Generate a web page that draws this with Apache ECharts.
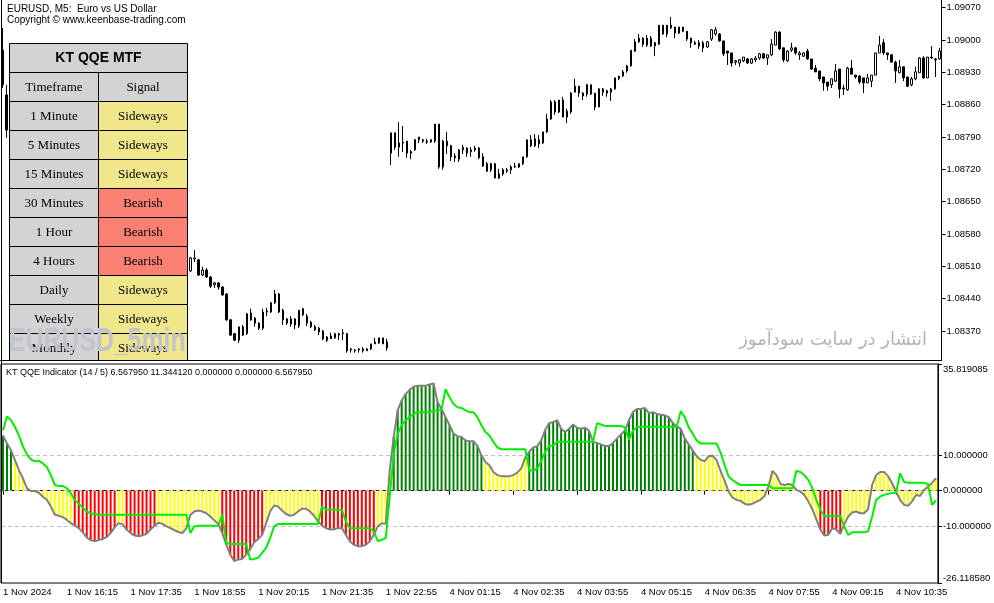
<!DOCTYPE html>
<html><head><meta charset="utf-8">
<script src="https://cdn.jsdelivr.net/npm/echarts/dist/echarts.min.js"></script>
<style>html,body{margin:0;padding:0;background:#fff;}#c{width:994px;height:603px;}</style>
</head><body><div id="c"></div>
<script>
// ---------- DATA ----------
// candles: [open, close, low, high]  (EURUSD M5, 1 Nov 14:55 -> 4 Nov 11:25)
const candles = [
[1.08978,1.08903,1.08896,1.09026],[1.08881,1.08805,1.08788,1.08903],[1.08805,1.08816,1.08799,1.08822],[1.08816,1.08784,1.08777,1.08820],[1.08784,1.08762,1.08758,1.08790],
[1.08762,1.08771,1.08749,1.08775],[1.08771,1.08740,1.08734,1.08777],[1.08740,1.08719,1.08710,1.08747],[1.08719,1.08727,1.08712,1.08734],[1.08727,1.08701,1.08693,1.08732],
[1.08701,1.08686,1.08680,1.08708],[1.08686,1.08695,1.08677,1.08701],[1.08695,1.08671,1.08664,1.08699],[1.08671,1.08680,1.08660,1.08686],[1.08680,1.08658,1.08651,1.08684],
[1.08658,1.08643,1.08636,1.08664],[1.08643,1.08654,1.08634,1.08660],[1.08654,1.08636,1.08628,1.08658],[1.08636,1.08621,1.08615,1.08643],[1.08621,1.08630,1.08612,1.08636],
[1.08630,1.08610,1.08602,1.08634],[1.08610,1.08593,1.08586,1.08617],[1.08593,1.08602,1.08584,1.08608],[1.08602,1.08580,1.08573,1.08606],[1.08580,1.08567,1.08558,1.08586],
[1.08567,1.08576,1.08560,1.08582],[1.08576,1.08554,1.08548,1.08580],[1.08554,1.08541,1.08532,1.08560],[1.08541,1.08548,1.08530,1.08554],[1.08548,1.08528,1.08519,1.08552],
[1.08528,1.08513,1.08506,1.08535],[1.08513,1.08522,1.08504,1.08528],[1.08522,1.08502,1.08496,1.08526],[1.08502,1.08491,1.08483,1.08509],[1.08491,1.08506,1.08485,1.08513],
[1.08506,1.08519,1.08500,1.08524],[1.08519,1.08511,1.08502,1.08526],[1.08511,1.08528,1.08504,1.08535],[1.08528,1.08519,1.08513,1.08537],[1.08519,1.08502,1.08496,1.08526],
[1.08502,1.08515,1.08493,1.08522],[1.08515,1.08506,1.08500,1.08519],[1.08506,1.08519,1.08502,1.08528],[1.08519,1.08511,1.08504,1.08524],[1.08511,1.08524,1.08506,1.08530],
[1.08524,1.08515,1.08509,1.08532],[1.08515,1.08500,1.08493,1.08522],[1.08500,1.08528,1.08498,1.08530],[1.08526,1.08528,1.08519,1.08545],[1.08524,1.08491,1.08489,1.08526],
[1.08491,1.08502,1.08489,1.08509],[1.08502,1.08487,1.08485,1.08506],[1.08487,1.08467,1.08463,1.08489],[1.08470,1.08474,1.08463,1.08476],[1.08474,1.08465,1.08459,1.08476],
[1.08465,1.08448,1.08446,1.08467],[1.08450,1.08394,1.08392,1.08452],[1.08394,1.08361,1.08359,1.08396],[1.08364,1.08350,1.08348,1.08366],[1.08350,1.08379,1.08344,1.08379],
[1.08361,1.08379,1.08359,1.08383],[1.08364,1.08407,1.08361,1.08409],[1.08409,1.08394,1.08392,1.08418],[1.08398,1.08387,1.08379,1.08400],[1.08387,1.08376,1.08372,1.08389],
[1.08376,1.08411,1.08372,1.08418],[1.08411,1.08413,1.08402,1.08420],[1.08411,1.08431,1.08409,1.08433],[1.08431,1.08450,1.08428,1.08459],[1.08450,1.08411,1.08409,1.08452],
[1.08415,1.08394,1.08383,1.08418],[1.08396,1.08387,1.08383,1.08398],[1.08385,1.08396,1.08379,1.08402],[1.08396,1.08383,1.08374,1.08398],[1.08381,1.08415,1.08376,1.08415],
[1.08418,1.08405,1.08402,1.08420],[1.08402,1.08387,1.08381,1.08407],[1.08389,1.08379,1.08376,1.08392],[1.08379,1.08372,1.08370,1.08383],[1.08376,1.08368,1.08361,1.08379],
[1.08370,1.08353,1.08350,1.08372],[1.08357,1.08350,1.08346,1.08359],[1.08353,1.08359,1.08353,1.08366],[1.08355,1.08364,1.08353,1.08366],[1.08361,1.08364,1.08350,1.08366],
[1.08364,1.08366,1.08350,1.08374],[1.08364,1.08327,1.08323,1.08366],[1.08329,1.08331,1.08323,1.08333],[1.08327,1.08329,1.08323,1.08331],[1.08331,1.08329,1.08323,1.08333],
[1.08327,1.08331,1.08323,1.08335],[1.08327,1.08331,1.08327,1.08333],[1.08331,1.08342,1.08329,1.08342],[1.08342,1.08346,1.08342,1.08355],[1.08344,1.08355,1.08342,1.08355],
[1.08355,1.08342,1.08342,1.08355],[1.08346,1.08333,1.08327,1.08353],
[1.08755,1.08799,1.08729,1.08799],[1.08799,1.08768,1.08762,1.08799],[1.08768,1.08777,1.08747,1.08822],
[1.08777,1.08779,1.08758,1.08814],[1.08781,1.08755,1.08745,1.08781],[1.08758,1.08755,1.08742,1.08762],[1.08762,1.08784,1.08760,1.08786],[1.08784,1.08790,1.08777,1.08790],
[1.08781,1.08784,1.08777,1.08786],[1.08781,1.08779,1.08775,1.08786],[1.08784,1.08779,1.08777,1.08784],[1.08781,1.08818,1.08777,1.08818],[1.08818,1.08725,1.08721,1.08818],
[1.08725,1.08781,1.08719,1.08784],[1.08781,1.08771,1.08753,1.08801],[1.08771,1.08747,1.08738,1.08773],[1.08749,1.08745,1.08736,1.08755],[1.08742,1.08762,1.08736,1.08764],
[1.08762,1.08768,1.08753,1.08773],[1.08766,1.08755,1.08747,1.08768],[1.08758,1.08762,1.08747,1.08768],[1.08762,1.08766,1.08758,1.08771],[1.08766,1.08745,1.08742,1.08768],
[1.08747,1.08727,1.08725,1.08755],[1.08732,1.08716,1.08714,1.08736],[1.08732,1.08719,1.08714,1.08734],[1.08732,1.08701,1.08701,1.08734],[1.08701,1.08710,1.08699,1.08721],
[1.08710,1.08719,1.08706,1.08723],[1.08716,1.08719,1.08712,1.08723],[1.08719,1.08725,1.08710,1.08729],[1.08725,1.08727,1.08723,1.08734],[1.08732,1.08725,1.08723,1.08732],
[1.08732,1.08747,1.08729,1.08747],[1.08747,1.08784,1.08745,1.08784],[1.08784,1.08771,1.08768,1.08794],[1.08771,1.08786,1.08768,1.08796],[1.08784,1.08775,1.08766,1.08794],
[1.08777,1.08801,1.08775,1.08801],[1.08801,1.08829,1.08799,1.08840],[1.08829,1.08866,1.08827,1.08870],[1.08866,1.08844,1.08838,1.08870],[1.08844,1.08870,1.08842,1.08870],
[1.08870,1.08833,1.08833,1.08877],[1.08833,1.08846,1.08820,1.08851],[1.08844,1.08885,1.08840,1.08887],[1.08887,1.08900,1.08887,1.08916],[1.08900,1.08885,1.08877,1.08900],
[1.08885,1.08879,1.08870,1.08887],[1.08883,1.08903,1.08877,1.08905],[1.08903,1.08883,1.08881,1.08903],[1.08885,1.08855,1.08848,1.08885],[1.08855,1.08894,1.08855,1.08896],
[1.08894,1.08887,1.08879,1.08896],[1.08890,1.08885,1.08877,1.08892],[1.08887,1.08894,1.08868,1.08896],[1.08894,1.08918,1.08892,1.08918],[1.08916,1.08922,1.08913,1.08922],
[1.08922,1.08931,1.08920,1.08935],[1.08933,1.08944,1.08929,1.08946],[1.08944,1.08978,1.08942,1.08978],[1.08976,1.08996,1.08974,1.09002],[1.08996,1.09004,1.08994,1.09013],
[1.09004,1.08991,1.08985,1.09006],[1.08989,1.09004,1.08985,1.09011],[1.09004,1.08987,1.08985,1.09009],[1.08987,1.08994,1.08965,1.08996],[1.08991,1.09032,1.08989,1.09032],
[1.09032,1.09013,1.09011,1.09032],[1.09013,1.09032,1.09006,1.09032],[1.09032,1.09026,1.09024,1.09050],[1.09028,1.09015,1.09004,1.09028],[1.09015,1.09028,1.09013,1.09028],
[1.09028,1.09019,1.09017,1.09028],[1.09019,1.09002,1.08998,1.09019],[1.09004,1.08994,1.08983,1.09004],[1.08994,1.08991,1.08989,1.08998],[1.08994,1.08987,1.08981,1.09000],
[1.08994,1.08983,1.08974,1.08998],[1.08985,1.08996,1.08983,1.08998],[1.09002,1.09022,1.08998,1.09024],[1.09013,1.09022,1.09009,1.09028],[1.09013,1.08998,1.08996,1.09015],
[1.08998,1.08970,1.08965,1.08998],[1.08976,1.08972,1.08946,1.08976],[1.08972,1.08950,1.08942,1.08972],[1.08952,1.08955,1.08946,1.08957],[1.08950,1.08957,1.08942,1.08959],
[1.08955,1.08963,1.08952,1.08963],[1.08959,1.08950,1.08948,1.08961],[1.08950,1.08959,1.08948,1.08961],[1.08957,1.08961,1.08952,1.08965],[1.08961,1.08970,1.08957,1.08972],
[1.08970,1.08961,1.08959,1.08972],[1.08961,1.08968,1.08946,1.08968],[1.08968,1.08991,1.08965,1.09002],[1.08989,1.09017,1.08989,1.09019],[1.09017,1.08981,1.08978,1.09019],
[1.08983,1.08957,1.08952,1.08983],[1.08955,1.08976,1.08952,1.08978],[1.08978,1.08983,1.08974,1.08994],[1.08983,1.08972,1.08968,1.08985],[1.08968,1.08972,1.08957,1.08976],
[1.08965,1.08972,1.08963,1.08974],[1.08976,1.08959,1.08957,1.08981],[1.08959,1.08937,1.08935,1.08959],[1.08939,1.08931,1.08931,1.08946],[1.08933,1.08916,1.08911,1.08933],
[1.08920,1.08907,1.08890,1.08920],[1.08909,1.08900,1.08890,1.08909],[1.08903,1.08916,1.08896,1.08916],[1.08911,1.08933,1.08909,1.08948],[1.08937,1.08894,1.08874,1.08937],
[1.08894,1.08896,1.08881,1.08903],[1.08892,1.08939,1.08890,1.08942],[1.08939,1.08926,1.08926,1.08957],[1.08924,1.08920,1.08916,1.08924],[1.08922,1.08909,1.08905,1.08924],
[1.08918,1.08907,1.08885,1.08918],[1.08907,1.08918,1.08907,1.08926],[1.08911,1.08924,1.08898,1.08924],[1.08924,1.08972,1.08924,1.08972],[1.08972,1.08989,1.08972,1.09009],
[1.08994,1.08972,1.08968,1.09002],[1.08972,1.08968,1.08957,1.08972],[1.08968,1.08952,1.08952,1.08968],[1.08952,1.08933,1.08907,1.08955],[1.08929,1.08942,1.08929,1.08957],
[1.08942,1.08918,1.08911,1.08942],[1.08920,1.08900,1.08898,1.08920],[1.08903,1.08916,1.08900,1.08920],[1.08916,1.08931,1.08913,1.08942],[1.08929,1.08961,1.08929,1.08963],
[1.08961,1.08918,1.08916,1.08965],[1.08918,1.08963,1.08918,1.08963],[1.08963,1.08961,1.08959,1.08987],[1.08959,1.08957,1.08920,1.08961],[1.08959,1.08976,1.08957,1.08983]
];

// QQE smoothed RSI (histogram + gray line), centred on 0
const qqeRsi = [
15.6,13.3,11.4,8.6,5.8,3.5,0.7,-0.1,-0.1,-0.6,
-1.7,-2.6,-4.5,-6.8,-7.1,-7.5,-8.2,-9.2,-9.8,-10.6,
-11.8,-13.2,-14.0,-14.3,-14.0,-13.7,-13.1,-12.0,-10.4,-9.2,
-9.5,-11.0,-12.0,-12.7,-12.9,-12.6,-12.2,-11.0,-9.9,-9.1,
-9.4,-10.1,-10.6,-11.2,-11.7,-12.0,-10.6,-6.9,-5.9,-5.6,
-5.9,-6.4,-7.3,-8.4,-9.4,-12.0,-15.3,-18.1,-19.9,-19.5,
-19.3,-18.1,-16.5,-14.6,-13.7,-12.5,-9.2,-5.9,-4.2,-4.5,
-5.6,-6.6,-7.1,-6.8,-5.9,-5.1,-5.1,-5.9,-7.1,-8.7,
-9.9,-10.6,-11.0,-10.9,-10.6,-10.6,-12.5,-14.3,-15.3,-15.7,
-15.7,-15.3,-14.3,-12.5,-10.1,-9.2,-9.4,5.8,15.2,22.7,
25.5,27.3,28.5,29.4,29.7,29.7,29.7,30.0,30.3,25.0,
23.1,20.8,18.5,16.1,15.4,15.2,14.2,14.0,14.0,12.6,
10.0,8.1,7.2,5.3,4.4,4.1,4.1,4.1,4.4,5.1,
6.3,9.4,11.0,12.2,12.6,14.2,17.2,19.1,19.4,19.9,
17.5,16.6,17.5,18.7,17.8,17.5,17.8,16.9,13.8,13.5,
13.1,12.6,12.6,13.5,14.7,15.9,17.0,19.9,22.2,23.1,
23.1,23.4,21.9,22.2,21.7,21.5,21.3,20.8,19.1,18.2,
17.5,14.7,13.1,11.4,9.7,8.7,8.3,9.8,9.9,8.6,
5.5,2.8,-0.3,-2.0,-2.6,-2.9,-3.7,-4.0,-3.7,-3.1,
-2.6,-1.5,1.1,5.6,4.4,1.9,1.6,1.9,1.6,0.2,
-0.3,-1.2,-3.1,-5.2,-8.1,-11.0,-12.7,-12.5,-10.6,-11.0,
-12.2,-9.6,-7.3,-6.2,-5.9,-6.4,-6.4,-5.2,1.6,4.4,
5.3,5.3,4.1,2.1,-0.3,-2.6,-4.0,-4.3,-3.1,-1.2,
-1.5,0.2,1.1,2.2,3.5
];

// QQE trailing level (green line)
const qqeTrail = [
17.0,21.0,20.0,18.0,15.6,12.5,10.3,8.8,8.4,8.4,
7.7,6.7,4.4,1.6,1.3,1.3,0.7,-0.7,-2.6,-3.7,
-4.8,-5.9,-6.4,-6.6,-6.8,-6.8,-6.8,-6.8,-6.8,-6.8,
-6.8,-6.8,-6.8,-6.8,-6.8,-6.8,-6.8,-6.8,-6.8,-6.8,
-6.8,-6.8,-6.8,-6.8,-6.8,-6.8,-6.8,-12.0,-10.1,-9.9,
-9.9,-9.9,-9.9,-9.9,-9.9,-6.8,-14.8,-15.1,-15.1,-15.1,
-15.1,-15.1,-19.5,-19.3,-19.0,-17.6,-16.2,-13.4,-10.1,-9.4,
-9.4,-9.4,-9.4,-9.4,-9.4,-9.4,-9.4,-9.4,-9.4,-9.4,
-4.5,-5.4,-5.4,-5.4,-5.4,-5.4,-8.7,-10.6,-10.6,-10.6,
-10.6,-10.6,-10.6,-11.5,-14.3,-13.9,-13.4,-1.7,10.5,16.1,
18.5,19.9,20.8,21.7,22.2,22.2,22.2,22.2,22.7,22.7,
22.9,28.7,26.4,24.5,23.6,23.4,22.7,22.2,22.2,20.8,
18.5,16.6,15.6,13.8,12.2,11.7,11.7,11.7,11.7,11.7,
11.7,11.7,5.8,5.6,6.3,8.4,11.0,12.6,12.8,13.8,
13.8,13.8,13.8,13.8,13.8,13.8,13.8,13.8,13.8,19.1,
18.7,18.3,18.3,18.3,18.3,18.3,17.9,14.4,17.0,17.9,
18.1,18.1,18.1,18.1,18.1,18.1,18.1,18.1,18.1,18.1,
22.5,20.8,17.9,16.1,14.2,13.3,13.3,13.3,13.3,13.3,
10.7,7.2,4.0,3.0,2.2,1.6,1.6,1.6,1.6,1.6,
1.6,1.6,1.6,0.7,0.7,0.7,0.7,0.7,0.7,5.6,
5.3,4.4,3.0,0.7,-2.6,-5.4,-7.1,-7.1,-7.1,-7.1,
-7.1,-10.1,-12.5,-11.8,-11.8,-11.8,-11.8,-11.5,-7.3,-2.6,
-1.7,-1.2,-0.9,-0.7,-0.6,4.9,2.5,2.2,2.2,2.2,
2.2,2.2,1.9,-4.0,-2.8
];

// histogram colour state runs: G = bullish, Y = neutral, R = bearish
const histRuns = [['G',3],['Y',15],['R',11],['Y',2],['R',8],['Y',16],['R',11],['Y',14],['R',14],['Y',4],
                  ['G',23],['Y',11],['G',42],['Y',31],['R',6],['Y',24]];

const timeframes = ['1 Minute','5 Minutes','15 Minutes','30 Minutes','1 Hour','4 Hours','Daily','Weekly','Monthly'];
const signals = ['Sideways','Sideways','Sideways','Bearish','Bearish','Bearish','Sideways','Sideways','Sideways'];

const priceTicks = [1.08370,1.08440,1.08510,1.08580,1.08650,1.08720,1.08790,1.08860,1.08930,1.09000,1.09070];
const indTicks = [-26.11858,-10,0,10,35.819085];
const levels = [10,0,-10];
const timeTicks = ['1 Nov 2024','1 Nov 16:15','1 Nov 17:35','1 Nov 18:55','1 Nov 20:15','1 Nov 21:35','1 Nov 22:55',
                   '4 Nov 01:15','4 Nov 02:35','4 Nov 03:55','4 Nov 05:15','4 Nov 06:35','4 Nov 07:55','4 Nov 09:15','4 Nov 10:35'];
const priceMin = 1.083071, priceMax = 1.090866;
const indMin = -26.11858, indMax = 35.819085;

// ---------- BUILD ----------
const pad = n => (n < 10 ? '0' : '') + n;
const cats = [];
for (let i = 0; i < 97; i++) { const m = 14 * 60 + 55 + 5 * i; cats.push('1 Nov ' + pad(Math.floor(m / 60)) + ':' + pad(m % 60)); }
for (let k = 0; k < 138; k++) { const m = 5 * k; cats.push('4 Nov ' + pad(Math.floor(m / 60)) + ':' + pad(m % 60)); }

const states = [];
histRuns.forEach(([s, n]) => { for (let i = 0; i < n; i++) states.push(s); });
const stateColor = { G: '#008000', Y: '#ffff00', R: '#ff0000' };
const histData = qqeRsi.map((v, i) => ({ value: v, itemStyle: { color: stateColor[states[i]] } }));

const UI = '"Liberation Sans", Arial, sans-serif';
const SERIF = '"Liberation Serif", "Times New Roman", serif';

const graphics = [];
graphics.push({ type: 'line', z: 100, shape: { x1: 1.5, y1: 0, x2: 1.5, y2: 583 }, style: { stroke: '#000', lineWidth: 1 } });
graphics.push({ type: 'text', z: 100, x: 7, y: 9, style: { text: 'EURUSD, M5:  Euro vs US Dollar', font: '10px ' + UI, fill: '#000', align: 'left', verticalAlign: 'middle' } });
graphics.push({ type: 'text', z: 100, x: 7, y: 20.5, style: { text: 'Copyright \u00a9 www.keenbase-trading.com', font: '10px ' + UI, fill: '#000', align: 'left', verticalAlign: 'middle' } });
graphics.push({ type: 'text', z: 100, x: 6, y: 372.5, style: { text: 'KT QQE Indicator (14 / 5) 6.567950 11.344120 0.000000 0.000000 6.567950', font: '9px ' + UI, fill: '#000', align: 'left', verticalAlign: 'middle' } });

// table
const TL = 9.5, TM = 98.5, TR = 187.5, TT = 43.5, RH = 29, CLIP = 360.5;
const cell = (x, y, w, h, fill, text, font) => {
  const hh = Math.min(h, CLIP - y);
  graphics.push({ type: 'rect', z: 100, shape: { x: x, y: y, width: w, height: hh }, style: { fill: fill, stroke: '#000', lineWidth: 1 } });
  graphics.push({ type: 'text', z: 101, x: x + w / 2, y: y + h / 2 + 0.5, style: { text: text, font: font, fill: '#000', align: 'center', verticalAlign: 'middle' } });
};
cell(TL, TT, TR - TL, RH, '#d3d3d3', 'KT QQE MTF', 'bold 14px ' + UI);
cell(TL, TT + RH, TM - TL, RH, '#d3d3d3', 'Timeframe', '13px ' + SERIF);
cell(TM, TT + RH, TR - TM, RH, '#d3d3d3', 'Signal', '13px ' + SERIF);
timeframes.forEach((tf, i) => {
  const y = TT + RH * (i + 2);
  const sig = signals[i];
  cell(TL, y, TM - TL, RH, '#d3d3d3', tf, '13px ' + SERIF);
  cell(TM, y, TR - TM, RH, sig === 'Bearish' ? '#fa8072' : (sig === 'Bullish' ? '#90ee90' : '#f0e68c'), sig, '13px ' + SERIF);
});
// watermarks
graphics.push({ type: 'text', z: 110, x: 9, y: 342, scaleX: 0.73, originX: 0, style: { text: 'EURUSD_5min', font: 'bold 34px ' + UI, fill: '#c0c5cc', align: 'left', verticalAlign: 'middle' } });
graphics.push({ type: 'text', z: 110, x: 927, y: 340, style: { text: 'انتشار در سایت سودآموز', font: '18px "DejaVu Sans", sans-serif', fill: '#b4b4b4', align: 'right', verticalAlign: 'middle' } });

if (candles.length !== 235 || qqeRsi.length !== 235 || qqeTrail.length !== 235 || states.length !== 235) {
  graphics.push({ type: 'text', z: 200, x: 300, y: 200, style: { text: 'LEN ' + candles.length + ' ' + qqeRsi.length + ' ' + qqeTrail.length + ' ' + states.length, font: 'bold 30px sans-serif', fill: 'red' } });
}

const axisFont = { fontFamily: UI, fontSize: 9.5, color: '#000' };
const everySixteen = (idx) => idx % 16 === 0;

const option = {
  animation: false,
  backgroundColor: '#fff',
  grid: [
    { left: 0.5, right: 52.5, top: 0, height: 360, show: false },
    { left: 0.5, right: 52.5, top: 364, height: 219, show: true, borderColor: '#000', borderWidth: 1, backgroundColor: 'transparent' }
  ],
  xAxis: [
    { type: 'category', gridIndex: 0, data: cats, boundaryGap: true,
      axisLine: { show: true, lineStyle: { color: '#000', width: 1 } }, axisTick: { show: false }, axisLabel: { show: false }, splitLine: { show: false } },
    { type: 'category', gridIndex: 1, data: cats, boundaryGap: true,
      axisLine: { show: true, lineStyle: { color: '#000', width: 1 } },
      axisTick: { show: true, interval: everySixteen, alignWithLabel: true, length: 4, lineStyle: { color: '#000' } },
      axisLabel: Object.assign({ interval: everySixteen, align: 'left', margin: 4, hideOverlap: false,
        formatter: (v, idx) => timeTicks[idx / 16] }, axisFont),
      splitLine: { show: false } }
  ],
  yAxis: [
    { type: 'value', gridIndex: 0, position: 'right', min: priceMin, max: priceMax,
      axisLine: { show: true, lineStyle: { color: '#000' } },
      axisTick: { show: true, customValues: priceTicks, length: 4, inside: false, lineStyle: { color: '#000' } },
      axisLabel: Object.assign({ customValues: priceTicks, margin: 5, formatter: v => v.toFixed(5) }, axisFont),
      splitLine: { show: false } },
    { type: 'value', gridIndex: 1, position: 'right', min: indMin, max: indMax,
      axisLine: { show: true, lineStyle: { color: '#000' } },
      axisTick: { show: true, customValues: indTicks, length: 4, inside: false, lineStyle: { color: '#000' } },
      axisLabel: Object.assign({ customValues: indTicks, margin: 5, formatter: v => v.toFixed(6),
        verticalAlignMinLabel: 'bottom', verticalAlignMaxLabel: 'top' }, axisFont),
      splitLine: { show: false } }
  ],
  series: [
    { type: 'candlestick', xAxisIndex: 0, yAxisIndex: 0, data: candles, barWidth: 2,
      itemStyle: { color: '#ffffff', color0: '#000000', borderColor: '#000000', borderColor0: '#000000', borderWidth: 1 } },
    { type: 'line', xAxisIndex: 1, yAxisIndex: 1, data: [], z: 1, silent: true,
      markLine: { silent: true, z: 1, symbol: ['none', 'none'], label: { show: false },
        lineStyle: { color: '#c0c0c0', width: 1, type: [4, 3] },
        data: levels.map(v => ({ yAxis: v })) } },
    { type: 'bar', xAxisIndex: 1, yAxisIndex: 1, data: histData, barWidth: 2, z: 2 },
    { type: 'line', xAxisIndex: 1, yAxisIndex: 1, data: qqeRsi, z: 3, symbol: 'none', lineStyle: { color: '#808080', width: 2 } },
    { type: 'line', xAxisIndex: 1, yAxisIndex: 1, data: qqeTrail, z: 4, symbol: 'none', lineStyle: { color: '#00ee00', width: 2 } }
  ],
  graphic: graphics
};

const chart = echarts.init(document.getElementById('c'), null, { renderer: 'canvas' });
chart.setOption(option);
</script></body></html>
